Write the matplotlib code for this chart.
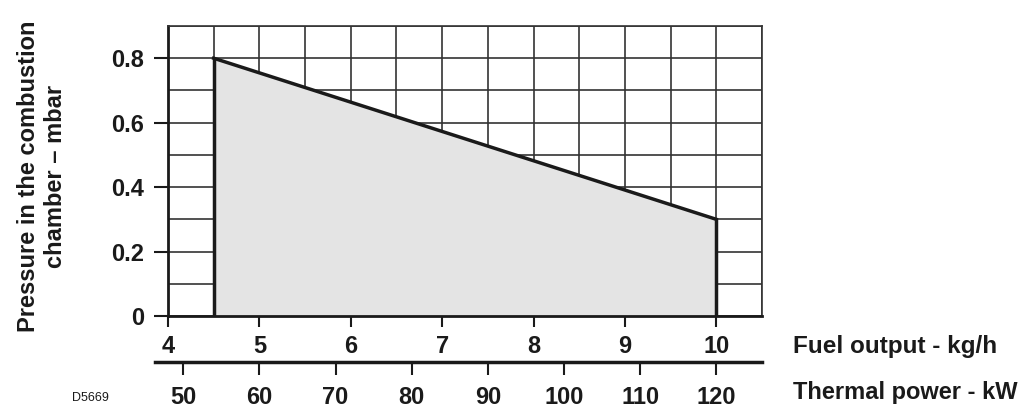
import matplotlib.pyplot as plt
import numpy as np
from matplotlib.ticker import MultipleLocator

# --- data ---
fuel_kgh = [4.5, 10.0]          # fuel output range (kg/h)
pressure_mbar = [0.8, 0.3]      # combustion chamber pressure (mbar)
fuel_ticks = [4, 5, 6, 7, 8, 9, 10]
pressure_ticks = [0, 0.2, 0.4, 0.6, 0.8]
power_ticks = [50, 60, 70, 80, 90, 100, 110, 120]
kw_per_kgh = 12.0               # thermal power = 12 * fuel output

FONT = ['Liberation Sans', 'DejaVu Sans']
INK = '#1a1a1a'
GRID = '#333333'
TICK_SIZE = 17

fig = plt.figure(figsize=(10.24, 4.08), dpi=100)
ax = fig.add_axes([168 / 1024, 1 - 316 / 408, (762 - 168) / 1024, 290 / 408])

ax.set_xlim(4, 10.5)
ax.set_ylim(0, 0.9)

# grid: 0.5 kg/h and 0.1 mbar
ax.xaxis.set_minor_locator(MultipleLocator(0.5))
ax.yaxis.set_minor_locator(MultipleLocator(0.1))
ax.grid(True, which='both', color=GRID, linewidth=1.2)
ax.set_axisbelow(True)

for side in ['top', 'right']:
    ax.spines[side].set_color(GRID)
    ax.spines[side].set_linewidth(1.2)
for side in ['left', 'bottom']:
    ax.spines[side].set_color(INK)
    ax.spines[side].set_linewidth(2.0)

# working range
x = np.array(fuel_kgh)
y = np.array(pressure_mbar)
ax.fill_between(x, 0, y, color='#e4e4e4', zorder=1.5)
ax.plot(x, y, color=INK, linewidth=2.5, solid_capstyle='projecting', zorder=3)
ax.vlines(x, 0, y, color=INK, linewidth=2.5, zorder=3)

# ticks
ax.set_xticks(fuel_ticks)
ax.set_xticklabels([str(v) for v in fuel_ticks])
ax.set_yticks(pressure_ticks)
ax.set_yticklabels(['0' if v == 0 else f'{v:.1f}' for v in pressure_ticks])
ax.tick_params(axis='x', which='major', direction='out', length=8, width=1.5,
               color=INK, pad=6)
ax.tick_params(axis='y', which='major', direction='out', length=10, width=1.5,
               color=INK, pad=7)
ax.tick_params(which='minor', length=0)
for lab in ax.get_xticklabels() + ax.get_yticklabels():
    lab.set_fontfamily(FONT)
    lab.set_fontweight('bold')
    lab.set_fontsize(TICK_SIZE)
    lab.set_color(INK)

# thermal power scale underneath
ax2 = fig.add_axes([155 / 1024, 1 - 362 / 408, (762 - 155) / 1024, 0.001])
lo = (4 - 13 / 91.2) * kw_per_kgh
ax2.set_xlim(lo, 10.5 * kw_per_kgh)
ax2.set_ylim(0, 1)
ax2.set_yticks([])
for side in ['top', 'left', 'right']:
    ax2.spines[side].set_visible(False)
ax2.spines['bottom'].set_linewidth(2.5)
ax2.spines['bottom'].set_color(INK)
ax2.patch.set_visible(False)
ax2.set_xticks(power_ticks)
ax2.set_xticklabels([str(v) for v in power_ticks])
ax2.tick_params(axis='x', direction='out', length=9, width=1.5, color=INK, pad=8)
for lab in ax2.get_xticklabels():
    lab.set_fontfamily(FONT)
    lab.set_fontweight('bold')
    lab.set_fontsize(TICK_SIZE)
    lab.set_color(INK)

# axis titles
fig.text(793 / 1024, 1 - 346 / 408, 'Fuel output - kg/h', family=FONT,
         fontweight='bold', fontsize=17.5, color=INK, va='center', ha='left')
fig.text(793 / 1024, 1 - 393 / 408, 'Thermal power - kW', family=FONT,
         fontweight='bold', fontsize=17, color=INK, va='center', ha='left')
fig.text(42 / 1024, 1 - 176 / 408, 'Pressure in the combustion\nchamber \u2013 mbar',
         family=FONT, fontweight='bold', fontsize=17, color=INK, rotation=90,
         ha='center', va='center', linespacing=1.2)
fig.text(72 / 1024, 1 - 398 / 408, 'D5669', family=FONT, fontsize=9,
         color=INK, va='center', ha='left')

fig.savefig('out.png', dpi=100)
